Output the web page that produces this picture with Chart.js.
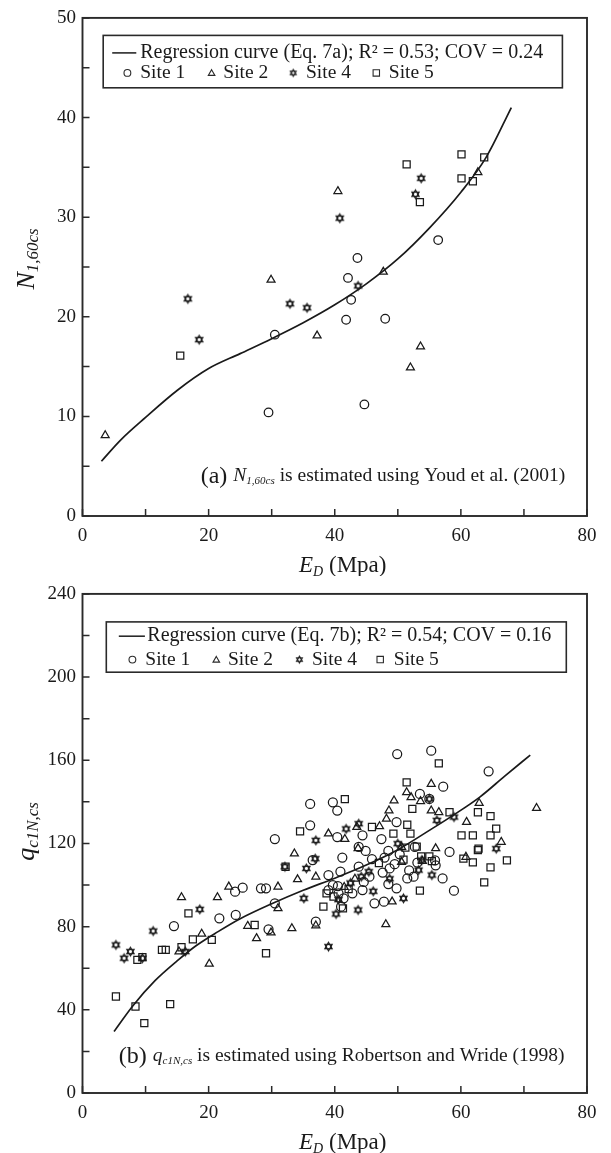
<!DOCTYPE html>
<html>
<head>
<meta charset="utf-8">
<script src="https://cdn.jsdelivr.net/npm/chart.js@4.4.1/dist/chart.umd.min.js"></script>
<style>
  html, body { margin: 0; padding: 0; background: #fff; }
  #wrap { position: relative; width: 611px; height: 1153px; }
  canvas { position: absolute; left: 0; }
  #panelA { top: 0; }
  #panelB { top: 576px; }
</style>
</head>
<body>
<div id="wrap">
  <canvas id="panelA" width="611" height="576"></canvas>
  <canvas id="panelB" width="611" height="577"></canvas>
</div>
<script>
// ---------- tick labels ----------
const xTickLabels = [0, 20, 40, 60, 80];
const yTickLabelsA = [0, 10, 20, 30, 40, 50];
const yTickLabelsB = [0, 40, 80, 120, 160, 200, 240];

// ---------- panel (a): N1,60cs vs ED ----------
const siteA1 = [[56.4,27.7],[43.6,25.9],[42.1,23.9],[42.6,21.7],[41.8,19.7],[48.0,19.8],[30.5,18.2],[29.5,10.4],[44.7,11.2]];
const siteA2 = [[62.7,34.5],[40.5,32.6],[47.7,24.5],[29.9,23.7],[37.2,18.1],[53.6,17.0],[52.0,14.9],[3.6,8.1]];
const siteA4 = [[53.7,33.9],[52.8,32.3],[40.8,29.9],[43.7,23.1],[16.7,21.8],[32.9,21.3],[35.6,20.9],[18.5,17.7]];
const siteA5 = [[51.4,35.3],[60.1,36.3],[63.7,36.0],[60.1,33.9],[61.9,33.6],[53.5,31.5],[15.5,16.1]];
const curveA = [[3,5.5],[6,7.6],[10,9.9],[15,12.6],[20,14.8],[25,16.3],[30,17.8],[35,19.4],[40,21.2],[45,23.3],[50,25.8],[55,28.9],[60,32.5],[64,36.0],[68,41.0]];

// ---------- panel (b): qc1N,cs vs ED ----------
const siteB1 = [[49.9,163.0],[55.3,164.6],[64.4,154.7],[57.2,147.3],[53.5,143.8],[36.1,139.0],[39.7,139.8],[40.4,135.8],[36.1,128.7],[30.5,122.1],[40.4,123.1],[44.4,123.9],[47.4,122.1],[49.8,130.3],[55.0,141.4],[41.2,113.2],[43.8,118.3],[44.9,116.4],[48.5,116.4],[58.2,115.9],[52.7,118.3],[55.9,111.9],
  [24.2,96.8],[25.4,98.7],[28.3,98.4],[29.1,98.4],[24.3,85.6],[21.7,84.0],[14.5,80.3],[29.5,78.7],[30.5,91.2],[37.0,82.4],[39.0,104.8],[39.0,97.6],[39.7,100],[40.6,96],[41.4,93.6],[41.0,89.6],[44.4,97.6],[46.3,91.2],[47.8,92],[48.5,100.5],[49.8,98.4],[51.5,103.2],[52.5,104],[57.1,103.2],[58.9,97.3],[43.8,108.8],
  [40.5,99.5],[42.8,96],[44.6,101.5],[45.5,104],[47.6,106],[48.7,108],[49.5,110],[51.8,107],[53.1,110.8],[56.0,109.5],[45.9,112.5],[47.9,113.2],[50.3,114.8],[36.5,112],[40.9,106.5]];
const siteB2 = [[55.3,148.6],[51.4,144.6],[52.1,142.2],[49.4,140.6],[53.6,140.3],[55.3,135.8],[56.5,135],[62.9,139.4],[72.0,137.0],[48.6,135.8],[48.2,131.8],[47.1,128.2],[43.5,127.9],[39.0,124.7],[41.6,122.1],[60.9,130.3],[66.4,120.7],[33.6,115.1],[50.6,118.3],[60.8,113.5],
  [15.7,94.1],[21.4,94.1],[23.2,99.2],[31.0,99.2],[31.0,88.8],[26.2,80.3],[27.6,74.4],[29.9,77.1],[33.2,79.2],[18.9,76.5],[15.3,68],[20.1,62.1],[37.0,104],[48.1,81.1],[49.1,92],[43.7,117.6],[34.1,102.7],[37.0,80.5],
  [41.5,99],[43.2,103],[50.6,111],[53.9,111.5],[56.0,117.6]];
const siteB4 = [[55.0,141.4],[56.2,131.1],[37.0,121.5],[41.8,127],[43.8,129.5],[50.0,119.9],[65.6,117.5],[36.9,112.7],[58.9,132.7],
  [5.3,71.2],[6.6,64.8],[7.6,68],[9.5,64.8],[11.2,77.9],[18.6,88.3],[35.1,93.6],[39.0,70.4],[43.7,88],[40.2,86.1],[32.1,108.8],[35.5,108],[53.3,107.2],[55.4,104.8],[50.9,93.6],[16.3,68],[45.4,106.4],
  [40.6,93],[42.5,101],[44.2,104],[46.1,97],[48.7,103],[53.8,112]];
const siteB5 = [[56.5,158.5],[51.4,149.4],[41.6,141.3],[34.5,125.8],[52.3,136.6],[58.2,135.0],[62.7,135.0],[64.7,133.1],[45.9,127.9],[49.3,124.7],[52.0,124.7],[60.1,123.9],[61.9,123.9],[65.6,127.1],[64.7,123.9],[62.8,117.5],[51.2,118.0],[67.3,111.9],[53.7,113.8],[55.0,113.8],[50.9,112.2],[60.4,112.7],[51.5,129],
  [5.3,46.4],[8.4,41.6],[9.8,33.6],[13.9,42.7],[8.7,64],[9.5,65.3],[12.6,68.8],[13.2,68.8],[15.7,70.1],[17.5,73.9],[16.8,86.4],[20.5,73.6],[27.3,80.8],[29.1,67.2],[38.2,89.6],[38.7,96],[41.3,88.8],[53.5,97.3],[63.7,101.3],[61.9,110.9],[64.7,108.5],[62.7,116.8],[32.2,108.8],
  [39.8,94.5],[42.2,98],[47.0,110.6],[55.4,111.5],[53.0,118.5]];
const curveB = [[5,29.6],[8,42],[11.5,54],[15,63.5],[18,70.8],[21.5,77.6],[25,83.8],[30,91],[35,97.5],[40,103.3],[45,109.6],[50,117],[55,126.3],[59,134],[63,142.3],[67,152.5],[71,162.5]];

// ---------- drawing helpers ----------
const SERIF = "'Liberation Serif', 'Times New Roman', serif";
const INK = '#1a1a1a';

function hexagram(r, lw) {
  const s = Math.ceil(2 * r + 2 * lw + 2);
  const c = document.createElement('canvas');
  c.width = s; c.height = s;
  const g = c.getContext('2d');
  g.strokeStyle = INK; g.lineWidth = lw;
  const cx = s / 2, cy = s / 2;
  [-Math.PI / 2, Math.PI / 2].forEach(rot => {
    g.beginPath();
    for (let i = 0; i < 3; i++) {
      const ang = rot + i * 2 * Math.PI / 3;
      const px = cx + r * Math.cos(ang), py = cy + r * Math.sin(ang);
      if (i) g.lineTo(px, py); else g.moveTo(px, py);
    }
    g.closePath(); g.stroke();
  });
  return c;
}
const STAR = hexagram(4.2, 1.2);
const STAR_SMALL = hexagram(3.4, 1.1);

function pts(arr) { return arr.map(p => ({ x: p[0], y: p[1] })); }

function rich(ctx, parts, x, y, align) {
  let w = 0;
  parts.forEach(p => { ctx.font = p[1]; w += ctx.measureText(p[0]).width; });
  let cx = align === 'center' ? x - w / 2 : (align === 'right' ? x - w : x);
  ctx.textAlign = 'left';
  parts.forEach(p => {
    ctx.font = p[1];
    ctx.fillText(p[0], cx, y + (p[2] || 0));
    cx += ctx.measureText(p[0]).width;
  });
}

function legendMarker(ctx, style, x, y) {
  ctx.beginPath();
  if (style === 'circle') {
    ctx.arc(x, y, 3.4, 0, Math.PI * 2);
  } else if (style === 'triangle') {
    const r = 3.8;
    for (let i = 0; i < 3; i++) {
      const a = -Math.PI / 2 + i * 2 * Math.PI / 3;
      const px = x + r * Math.cos(a), py = y + 0.6 + r * Math.sin(a);
      if (i) ctx.lineTo(px, py); else ctx.moveTo(px, py);
    }
    ctx.closePath();
  } else if (style === 'rect') {
    ctx.rect(x - 3.2, y - 3.2, 6.4, 6.4);
  } else {
    ctx.drawImage(STAR_SMALL, x - STAR_SMALL.width / 2, y - STAR_SMALL.height / 2);
    return;
  }
  ctx.stroke();
}

// frame, inward ticks, legend box, axis titles, panel note
const decor = {
  id: 'decor',
  afterDraw(chart, args, o) {
    const { ctx, chartArea: a, scales } = chart;
    ctx.save();
    ctx.strokeStyle = '#2a2a2a';
    ctx.fillStyle = INK;
    ctx.lineWidth = 1.9;
    ctx.strokeRect(a.left, a.top, a.right - a.left, a.bottom - a.top);

    ctx.lineWidth = 1.5;
    ctx.beginPath();
    scales.x.ticks.forEach(t => {
      const px = scales.x.getPixelForValue(t.value);
      ctx.moveTo(px, a.bottom); ctx.lineTo(px, a.bottom - 7);
    });
    scales.y.ticks.forEach(t => {
      const py = scales.y.getPixelForValue(t.value);
      ctx.moveTo(a.left, py); ctx.lineTo(a.left + 7, py);
    });
    ctx.stroke();

    // legend
    const L = o.legend;
    const bx = a.left + L.box[0], by = a.top + L.box[1];
    ctx.lineWidth = 1.6;
    ctx.strokeRect(bx, by, L.box[2], L.box[3]);
    const r1 = a.top + L.row1, r2 = a.top + L.row2;
    const ds = chart.data.datasets;
    const curve = ds.find(d => d.showLine);
    ctx.lineWidth = 1.6;
    ctx.beginPath();
    ctx.moveTo(a.left + L.sample[0], r1); ctx.lineTo(a.left + L.sample[1], r1);
    ctx.stroke();
    ctx.textBaseline = 'middle';
    rich(ctx, [[curve.label, '20px ' + SERIF]], a.left + L.text1, r1, 'left');
    const sites = ds.filter(d => !d.showLine);
    ctx.lineWidth = 1.1;
    sites.forEach((d, i) => {
      legendMarker(ctx, d.legendStyle, a.left + L.marks[i], r2);
      rich(ctx, [[d.label, '19.5px ' + SERIF]], a.left + L.labels[i], r2, 'left');
    });

    // x title
    rich(ctx, [['E', 'italic 23px ' + SERIF], ['D', 'italic 14px ' + SERIF, 6], [' (Mpa)', '23px ' + SERIF]],
      (a.left + a.right) / 2 + 8, a.bottom + 50, 'center');

    // y title (rotated)
    ctx.save();
    ctx.translate(27, (a.top + a.bottom) / 2 + o.yTitleShift);
    ctx.rotate(-Math.PI / 2);
    rich(ctx, o.yTitle, 0, 0, 'center');
    ctx.restore();

    // panel note
    rich(ctx, o.note, a.left + o.noteX, a.bottom - o.noteY, 'left');
    ctx.restore();
  }
};

function axisX() {
  return {
    type: 'linear', min: 0, max: 80,
    grid: { display: false, drawTicks: false, tickLength: 0 },
    border: { display: false },
    ticks: {
      stepSize: 10, padding: 8.5, color: INK, maxRotation: 0, autoSkip: false,
      font: { family: SERIF, size: 19 },
      callback: v => xTickLabels.includes(v) ? String(v) : ''
    },
    afterFit: s => { s.height = 60; }
  };
}
function axisY(max, step, labels) {
  return {
    type: 'linear', min: 0, max: max,
    grid: { display: false, drawTicks: false, tickLength: 0 },
    border: { display: false },
    ticks: {
      stepSize: step, padding: 6.5, color: INK, autoSkip: false,
      font: { family: SERIF, size: 19 },
      callback: v => labels.includes(v) ? String(v) : ''
    },
    afterFit: s => { s.width = 82.5; }
  };
}

function siteSet(label, data, style, radius, legendStyle) {
  return {
    type: 'scatter', label, data: pts(data), showLine: false,
    pointStyle: style, pointRadius: radius, pointHoverRadius: radius,
    pointBorderColor: INK, pointBackgroundColor: 'rgba(0,0,0,0)', pointBorderWidth: 1.25,
    legendStyle
  };
}
function curveSet(label, data) {
  return {
    type: 'line', label, data: pts(data), showLine: true,
    borderColor: INK, borderWidth: 1.7, pointRadius: 0,
    cubicInterpolationMode: 'monotone', fill: false
  };
}

function makePanel(id, cfg) {
  return new Chart(document.getElementById(id), {
    type: 'scatter',
    data: { datasets: cfg.datasets },
    options: {
      responsive: false, animation: false, devicePixelRatio: 1,
      layout: { padding: { top: cfg.padTop, right: 24, bottom: 0, left: 0 } },
      scales: { x: cfg.x, y: cfg.y },
      plugins: { legend: { display: false }, tooltip: { enabled: false }, decor: cfg.decor }
    },
    plugins: [decor]
  });
}

makePanel('panelA', {
  padTop: 14.7,
  x: axisX(),
  y: axisY(50, 5, yTickLabelsA),
  datasets: [
    curveSet('Regression curve (Eq. 7a); R² = 0.53; COV = 0.24', curveA),
    siteSet('Site 1', siteA1, 'circle', 4.3, 'circle'),
    siteSet('Site 2', siteA2, 'triangle', 4.6, 'triangle'),
    siteSet('Site 4', siteA4, STAR, 4.3, 'star'),
    siteSet('Site 5', siteA5, 'rect', 5.0, 'rect')
  ],
  decor: {
    legend: { box: [20.7, 17.5, 459.2, 52.4], row1: 35, row2: 55, sample: [29.7, 53.8], text1: 57.7,
      marks: [44.9, 129.1, 210.7, 293.8], labels: [57.7, 140.8, 223.5, 306.3] },
    yTitle: [['N', 'italic 26px ' + SERIF], ['1,60cs', 'italic 17px ' + SERIF, 7]],
    yTitleShift: -8,
    note: [['(a) ', '24px ' + SERIF], ['N', 'italic 19.5px ' + SERIF], ['1,60cs', 'italic 11px ' + SERIF, 5],
      [' is estimated using Youd et al. (2001)', '19.5px ' + SERIF]],
    noteX: 118.2, noteY: 39.7
  }
});

makePanel('panelB', {
  padTop: 13.3,
  x: axisX(),
  y: axisY(240, 20, yTickLabelsB),
  datasets: [
    curveSet('Regression curve (Eq. 7b); R² = 0.54; COV = 0.16', curveB),
    siteSet('Site 1', siteB1, 'circle', 4.5, 'circle'),
    siteSet('Site 2', siteB2, 'triangle', 4.6, 'triangle'),
    siteSet('Site 4', siteB4, STAR, 4.3, 'star'),
    siteSet('Site 5', siteB5, 'rect', 5.0, 'rect')
  ],
  decor: {
    legend: { box: [23.8, 28, 460, 50.3], row1: 42.3, row2: 65.7, sample: [36.3, 62.4], text1: 64.8,
      marks: [49.9, 133.8, 216.9, 297.7], labels: [62.8, 145.5, 229.5, 311.3] },
    yTitle: [['q', 'italic 26px ' + SERIF], ['c1N,cs', 'italic 17px ' + SERIF, 7]],
    yTitleShift: -12,
    note: [['(b) ', '24px ' + SERIF], ['q', 'italic 19.5px ' + SERIF], ['c1N,cs', 'italic 11px ' + SERIF, 5],
      [' is estimated using Robertson and Wride (1998)', '19.5px ' + SERIF]],
    noteX: 36.3, noteY: 36.7
  }
});
</script>
</body>
</html>
